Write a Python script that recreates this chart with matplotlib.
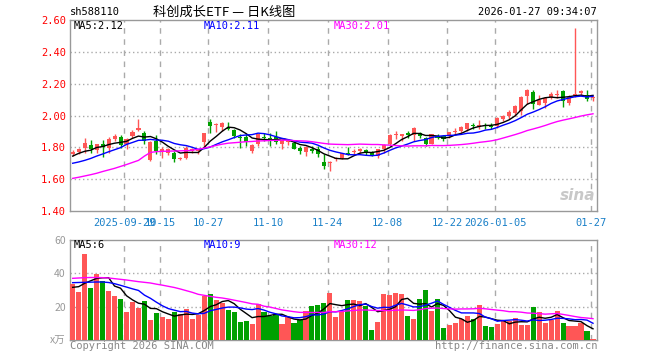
import numpy as np
import pandas as pd
import matplotlib
matplotlib.use("Agg")
import matplotlib.pyplot as plt

# ---------- data ----------
tick_idx = [9, 15, 23, 33, 43, 53, 63, 71, 87]
tick_lbl = ["2025-09-29", "10-15", "10-27", "11-10", "11-24",
            "12-08", "12-22", "2026-01-05", "01-27"]

opens = [1.756, 1.773, 1.794, 1.813, 1.783, 1.819, 1.798, 1.854, 1.865, 1.819,
         1.871, 1.906, 1.888, 1.719, 1.842, 1.777, 1.767, 1.767, 1.725, 1.735,
         1.777, 1.775, 1.833, 1.958, 1.940, 1.929, 1.923, 1.908, 1.867, 1.867,
         1.777, 1.819, 1.867, 1.860, 1.867, 1.819, 1.833, 1.829, 1.798, 1.773,
         1.788, 1.788, 1.708, 1.702, 1.725, 1.731, 1.763, 1.771, 1.777, 1.781,
         1.771, 1.746, 1.788, 1.819, 1.877, 1.871, 1.888, 1.875, 1.892, 1.860,
         1.823, 1.871, 1.871, 1.875, 1.896, 1.902, 1.913, 1.942, 1.929, 1.942,
         1.937, 1.933, 1.979, 1.996, 2.013, 2.027, 2.121, 2.150, 2.069, 2.079,
         2.117, 2.129, 2.152, 2.079, 2.125, 2.142, 2.127, 2.110]
highs = [1.783, 1.795, 1.860, 1.844, 1.819, 1.844, 1.865, 1.881, 1.877, 1.860,
         1.908, 1.975, 1.903, 1.840, 1.875, 1.802, 1.798, 1.777, 1.742, 1.808,
         1.798, 1.792, 1.892, 1.975, 1.950, 1.958, 1.958, 1.917, 1.881, 1.881,
         1.819, 1.885, 1.892, 1.888, 1.902, 1.850, 1.850, 1.840, 1.808, 1.808,
         1.808, 1.808, 1.756, 1.715, 1.742, 1.767, 1.802, 1.788, 1.798, 1.788,
         1.777, 1.792, 1.819, 1.881, 1.902, 1.881, 1.902, 1.927, 1.896, 1.867,
         1.885, 1.881, 1.875, 1.898, 1.923, 1.933, 1.954, 1.954, 1.969, 1.954,
         1.954, 1.990, 2.006, 2.033, 2.069, 2.121, 2.167, 2.158, 2.131, 2.117,
         2.146, 2.160, 2.158, 2.131, 2.548, 2.158, 2.158, 2.125]
lows = [1.746, 1.760, 1.767, 1.763, 1.767, 1.742, 1.767, 1.840, 1.798, 1.788,
        1.860, 1.900, 1.819, 1.713, 1.760, 1.735, 1.750, 1.708, 1.720, 1.729,
        1.767, 1.760, 1.798, 1.892, 1.896, 1.902, 1.908, 1.860, 1.798, 1.808,
        1.767, 1.808, 1.840, 1.808, 1.819, 1.792, 1.813, 1.788, 1.756, 1.746,
        1.767, 1.742, 1.663, 1.652, 1.715, 1.725, 1.750, 1.756, 1.763, 1.750,
        1.746, 1.735, 1.767, 1.813, 1.854, 1.840, 1.860, 1.840, 1.860, 1.808,
        1.819, 1.850, 1.840, 1.860, 1.881, 1.892, 1.902, 1.917, 1.917, 1.917,
        1.917, 1.923, 1.965, 1.979, 2.000, 2.006, 2.075, 2.042, 2.063, 2.048,
        2.104, 2.110, 2.054, 2.069, 2.117, 2.125, 2.090, 2.090]
closes = [1.773, 1.788, 1.827, 1.788, 1.819, 1.802, 1.850, 1.871, 1.815, 1.850,
          1.896, 1.921, 1.840, 1.833, 1.777, 1.792, 1.788, 1.729, 1.735, 1.798,
          1.788, 1.788, 1.888, 1.933, 1.946, 1.950, 1.917, 1.871, 1.860, 1.833,
          1.813, 1.881, 1.858, 1.854, 1.833, 1.846, 1.840, 1.792, 1.777, 1.804,
          1.777, 1.756, 1.683, 1.706, 1.731, 1.763, 1.756, 1.777, 1.788, 1.763,
          1.752, 1.788, 1.815, 1.875, 1.885, 1.881, 1.879, 1.919, 1.871, 1.823,
          1.881, 1.860, 1.854, 1.896, 1.902, 1.927, 1.950, 1.936, 1.942, 1.933,
          1.929, 1.983, 1.996, 2.025, 2.058, 2.117, 2.158, 2.075, 2.100, 2.108,
          2.138, 2.138, 2.090, 2.117, 2.138, 2.156, 2.104, 2.117]
# volume, 万手
vols = [33.6, 29.0, 51.6, 31.0, 39.6, 35.4, 29.4, 26.4, 24.6, 17.0,
        23.0, 19.4, 23.4, 12.0, 16.2, 13.8, 12.6, 17.0, 15.6, 18.6,
        12.8, 15.0, 26.4, 27.6, 24.0, 22.4, 18.0, 17.0, 11.0, 11.4,
        9.6, 21.4, 17.0, 14.4, 14.8, 9.6, 13.6, 10.4, 12.0, 17.4,
        20.4, 20.8, 22.4, 28.4, 14.0, 17.4, 24.0, 24.0, 23.4, 20.4,
        6.0, 11.0, 27.6, 27.0, 28.4, 27.6, 14.4, 12.6, 24.6, 30.0,
        17.4, 24.6, 7.2, 9.0, 10.2, 12.6, 14.2, 12.6, 21.0, 8.4,
        7.8, 9.6, 11.4, 11.4, 13.4, 9.0, 9.2, 19.8, 17.0, 10.2,
        12.0, 17.4, 10.2, 8.6, 8.6, 10.2, 5.4, 0.8]

# MA values at the left edge (they depend on sessions before the window)
ma5_head = [1.745, 1.762, 1.775, 1.782]
ma10_head = [1.700, 1.708, 1.718, 1.730, 1.745, 1.758, 1.772, 1.785, 1.798]
ma30_head = [1.605, 1.612, 1.620, 1.628, 1.637, 1.648, 1.658, 1.668, 1.680, 1.692,
             1.705, 1.718, 1.745, 1.768, 1.773, 1.775, 1.776, 1.777, 1.778, 1.779,
             1.782, 1.788, 1.795, 1.803, 1.812, 1.820, 1.826, 1.829, 1.832]
vma5_head = [31.6, 32.0, 34.0, 35.5]
vma10_head = [34.4, 34.5, 34.6, 34.7, 34.8, 34.8, 34.5, 33.8, 32.8]
vma30_head = [37.0, 37.2, 37.4, 37.5, 37.5, 37.4, 37.2, 36.8, 36.4, 36.0,
              35.5, 35.0, 34.6, 34.2, 33.5, 32.9, 32.2, 31.5, 30.6, 29.6,
              28.6, 27.4, 26.8, 26.2, 25.6, 25.2, 24.6, 23.9, 23.2]

RED = "#ff5656"
GREEN = "#00a000"
MONO = ["DejaVu Sans Mono"]
CJK = ["Noto Sans CJK SC", "DejaVu Sans"]
W, H = 660, 360


def moving_avg(values, n, head):
    ma = pd.Series(values).rolling(n).mean().to_numpy()
    ma[:len(head)] = head
    return ma


def style_axes(ax):
    for sp in ax.spines.values():
        sp.set_color("#999999")
        sp.set_linewidth(1)
    ax.tick_params(length=0, pad=3)
    ax.set_xticks([i - 0.35 for i in tick_idx])
    ax.set_xlim(-0.45, len(closes) - 0.33)
    for i in tick_idx:
        ax.axvline(i - 0.35, color="#aaaaaa", lw=1, ls=(0, (4, 4)), zorder=0)


def main():
    o = np.array(opens)
    c = np.array(closes)
    x = np.arange(len(c))
    colors = np.where(c >= o, RED, GREEN)

    fig = plt.figure(figsize=(6.6, 3.6), dpi=100)
    ax = fig.add_axes([70 / W, 1 - 211 / H, 527 / W, 191 / H])
    axv = fig.add_axes([70 / W, 1 - 340 / H, 527 / W, 100 / H])

    # ---------- K线 ----------
    style_axes(ax)
    ax.vlines(x, lows, highs, colors=colors, lw=1, zorder=2)
    body = np.maximum(np.abs(c - o), 0.003)
    ax.bar(x, body, bottom=np.minimum(o, c), width=0.68, color=colors, lw=0, zorder=3)
    ax.plot(x, moving_avg(closes, 5, ma5_head), color="black", lw=1, zorder=4)
    ax.plot(x, moving_avg(closes, 10, ma10_head), color="#0000ff", lw=1, zorder=4)
    ax.plot(x, moving_avg(closes, 30, ma30_head), color="#ff00ff", lw=1, zorder=4)
    ax.set_ylim(1.40, 2.60)
    yt = [1.4, 1.6, 1.8, 2.0, 2.2, 2.4, 2.6]
    ax.set_yticks(yt)
    ax.set_yticklabels(["%.2f" % v for v in yt], color="red", family=MONO, fontsize=7.5)
    for v in yt[1:-1]:
        ax.axhline(v, color="#aaaaaa", lw=1, ls=(0, (1, 2)), zorder=0)
    ax.set_xticklabels(tick_lbl, color="#1a80c8", family=MONO, fontsize=7.5)
    ax.tick_params(axis="x", pad=5)

    # ---------- 成交量 ----------
    style_axes(axv)
    axv.bar(x, vols, width=0.86, color=colors, lw=0, zorder=3)
    axv.plot(x, moving_avg(vols, 5, vma5_head), color="black", lw=1, zorder=4)
    axv.plot(x, moving_avg(vols, 10, vma10_head), color="#0000ff", lw=1, zorder=4)
    axv.plot(x, moving_avg(vols, 30, vma30_head), color="#ff00ff", lw=1, zorder=4)
    axv.set_ylim(0, 60)
    axv.set_yticks([0, 20, 40, 60])
    axv.set_yticklabels(["x万", "20", "40", "60"], color="#999999", family=CJK, fontsize=7.5)
    for v in [20, 40]:
        axv.axhline(v, color="#aaaaaa", lw=1, ls=(0, (1, 2)), zorder=0)
    axv.set_xticklabels([])

    def ptext(px, py, s, **kw):
        fig.text(px / W, 1 - py / H, s, **kw)

    ptext(70, 12, "sh588110", family=MONO, fontsize=7.5, va="center")
    ptext(224, 12, "科创成长ETF — 日K线图", family=CJK, fontsize=9.5, va="center", ha="center")
    ptext(597, 12, "2026-01-27 09:34:07", family=MONO, fontsize=7.5, va="center", ha="right")
    ptext(74, 26, "MA5:2.12", family=MONO, fontsize=7.5, va="center", color="black")
    ptext(204, 26, "MA10:2.11", family=MONO, fontsize=7.5, va="center", color="#0000ff")
    ptext(334, 26, "MA30:2.01", family=MONO, fontsize=7.5, va="center", color="#ff00ff")
    ptext(74, 245, "MA5:6", family=MONO, fontsize=7.5, va="center", color="black")
    ptext(204, 245, "MA10:9", family=MONO, fontsize=7.5, va="center", color="#0000ff")
    ptext(334, 245, "MA30:12", family=MONO, fontsize=7.5, va="center", color="#ff00ff")
    ptext(70, 346, "Copyright 2026 SINA.COM", family=MONO, fontsize=7.5, va="center", color="#888888")
    ptext(597, 346, "http://finance.sina.com.cn", family=MONO, fontsize=7.5, va="center",
          ha="right", color="#888888")
    ptext(578, 196, "sina", fontsize=11, fontweight="bold", style="italic", va="center",
          ha="center", color="#c8c8c8")

    fig.savefig("out.png", dpi=100)


if __name__ == "__main__":
    main()
